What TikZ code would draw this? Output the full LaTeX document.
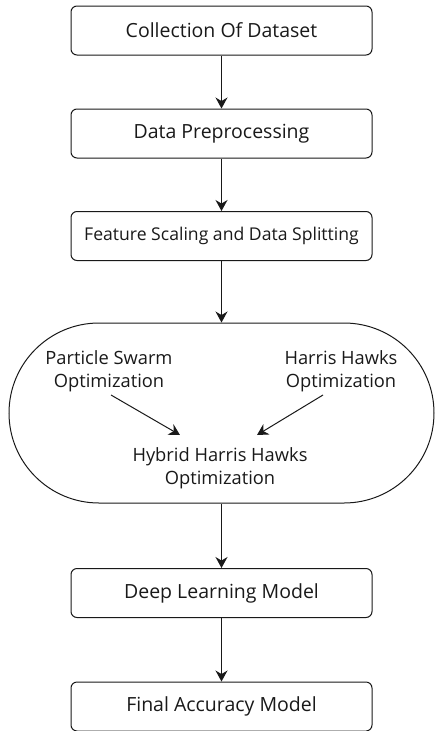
\documentclass[tikz,border=0pt]{standalone}
\usepackage{fontspec}
\setmainfont{Open Sans}
\usetikzlibrary{arrows.meta}
\begin{document}
\begin{tikzpicture}[x=1pt,y=-1pt,
  stepbox/.style={draw=black!90,line width=1pt,rounded corners=6pt,minimum width=301pt,minimum height=49pt,inner sep=0pt,font=\fontsize{19.5}{23}\selectfont,text=black!90},
  inner/.style={align=center,inner sep=1pt,font=\fontsize{18.3}{23}\selectfont,text=black!90},
  arr/.style={draw=black!90,line width=1pt,-{Stealth[length=11pt,width=12pt]}}]
\useasboundingbox (0,0) rectangle (435,731);
\node[stepbox] (b1) at (221.5,30.5) {Collection Of Dataset};
\node[stepbox] (b2) at (221.5,133.5) {Data Preprocessing};
\node[stepbox,font=\fontsize{17.6}{21}\selectfont] (b3) at (221.5,236) {Feature Scaling and Data Splitting};
\node[draw=black!90,line width=1pt,rounded corners=90pt,minimum width=425pt,minimum height=180pt,inner sep=0pt] (ov) at (221.5,413) {};
\node[inner] (pso) at (109,371.5) {Particle Swarm\\Optimization};
\node[inner] (hho) at (341,371.5) {Harris Hawks\\Optimization};
\node[inner] (hyb) at (220,468.5) {Hybrid Harris Hawks\\Optimization};
\node[stepbox] (b4) at (221.5,593) {Deep Learning Model};
\node[stepbox] (b5) at (221.5,706.5) {Final Accuracy Model};
\draw[arr] (b1) -- (b2);
\draw[arr] (b2) -- (b3);
\draw[arr] (b3) -- (ov);
\draw[arr] (ov) -- (b4);
\draw[arr] (b4) -- (b5);
\draw[arr] ([shift={(2,23.5)}]pso.center) -- ([shift={(-40,-33.5)}]hyb.center);
\draw[arr] ([shift={(-18,23.5)}]hho.center) -- ([shift={(37,-33.5)}]hyb.center);
\end{tikzpicture}
\end{document}
